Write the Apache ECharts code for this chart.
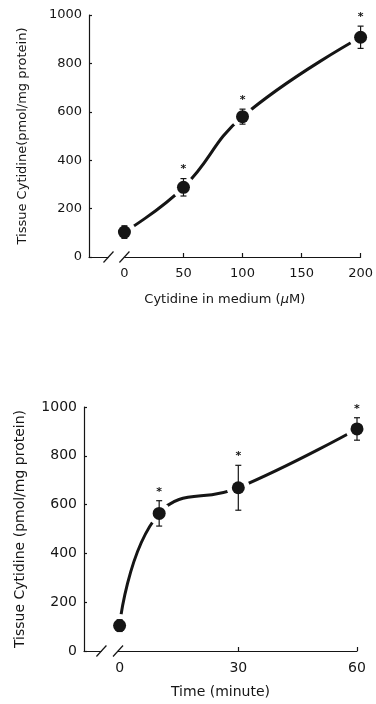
<!DOCTYPE html>
<html style="height: 100%">
<head>
    <meta charset="utf-8">
</head>
<body style="height: 100%; margin: 0; background: #fff">
    <div id="container" style="width: 376px; height: 704px"></div>
    <script type="text/javascript" src="https://cdn.jsdelivr.net/npm/echarts@6/dist/echarts.min.js"></script>
    <script type="text/javascript">
        // upper panel: cytidine in medium (uM)
        var doseX = [0, 50, 100, 200];
        var doseMean = [103, 288, 580, 908];
        var doseErr = [26, 36, 31, 46];
        var doseSig = [0, 1, 1, 1];
        var doseLabels = [0, 50, 100, 150, 200];
        var doseTicks = [50, 100, 150, 200];

        // lower panel: time (minute)
        var timeX = [0, 10, 30, 60];
        var timeMean = [104, 564, 669, 910];
        var timeErr = [24, 52, 92, 46];
        var timeSig = [0, 1, 1, 1];
        var timeLabels = [0, 30, 60];
        var timeTicks = [30, 60];

        var INK = '#151515';
        var FONT = 'DejaVu Sans';

        var dom = document.getElementById('container');
        var myChart = echarts.init(dom);

        function pts(xs, ys) {
            return xs.map(function (x, i) { return [x, ys[i]]; });
        }

        function errRender(params, api) {
            var x = api.value(0);
            var top = api.coord([x, api.value(2)]);
            var bot = api.coord([x, api.value(1)]);
            var st = { stroke: INK, lineWidth: 1.2 };
            return {
                type: 'group',
                children: [
                    { type: 'line', shape: { x1: top[0], y1: top[1], x2: bot[0], y2: bot[1] }, style: st },
                    { type: 'line', shape: { x1: top[0] - 3, y1: top[1], x2: top[0] + 3, y2: top[1] }, style: st },
                    { type: 'line', shape: { x1: bot[0] - 3, y1: bot[1], x2: bot[0] + 3, y2: bot[1] }, style: st }
                ]
            };
        }

        function starRender(params, api) {
            if (!api.value(2)) return null;
            var p = api.coord([api.value(0), api.value(1)]);
            return {
                type: 'text',
                style: {
                    text: '*', x: p[0], y: p[1] - 9, align: 'center', verticalAlign: 'middle',
                    fill: INK, font: 'bold 11px ' + FONT
                }
            };
        }

        // axis break "//" drawn between two x values
        function breakRender(a, b) {
            return function (params, api) {
                var p0 = api.coord([a, 0]);
                var p1 = api.coord([b, 0]);
                var st = { stroke: INK, lineWidth: 1.2 };
                return {
                    type: 'group',
                    children: [
                        { type: 'rect', shape: { x: p0[0], y: p0[1] - 3, width: p1[0] - p0[0], height: 6 }, style: { fill: '#fff' } },
                        { type: 'line', shape: { x1: p0[0] - 5, y1: p0[1] + 5.5, x2: p0[0] + 5, y2: p0[1] - 5.5 }, style: st },
                        { type: 'line', shape: { x1: p1[0] - 5, y1: p1[1] + 5.5, x2: p1[0] + 5, y2: p1[1] - 5.5 }, style: st }
                    ]
                };
            };
        }

        function panelSeries(k, xs, mean, err, sig, brk) {
            var data = pts(xs, mean);
            var bars = xs.map(function (x, i) { return [x, mean[i] - err[i], mean[i] + err[i]]; });
            var stars = xs.map(function (x, i) { return [x, mean[i] + err[i], sig[i]]; });
            return [
                {
                    type: 'line', xAxisIndex: k, yAxisIndex: k, data: data, smooth: 0.45,
                    symbol: 'none', lineStyle: { color: INK, width: 3 }, z: 2, silent: true
                },
                {
                    type: 'scatter', xAxisIndex: k, yAxisIndex: k, data: data, symbolSize: 23,
                    itemStyle: { color: '#fff', opacity: 1 }, z: 3, silent: true
                },
                {
                    type: 'custom', xAxisIndex: k, yAxisIndex: k, data: bars, renderItem: errRender,
                    z: 4, silent: true
                },
                {
                    type: 'scatter', xAxisIndex: k, yAxisIndex: k, data: data, symbolSize: 13,
                    itemStyle: { color: INK, opacity: 1 }, z: 5, silent: true
                },
                {
                    type: 'custom', xAxisIndex: k, yAxisIndex: k, data: stars, renderItem: starRender,
                    z: 6, silent: true
                },
                {
                    type: 'custom', xAxisIndex: k, yAxisIndex: k, data: [[0, 0]], renderItem: breakRender(brk[0], brk[1]),
                    z: 10, silent: true, clip: false
                }
            ];
        }

        function xAxis(k, min, max, labels, ticks, name, fs, gap) {
            return {
                type: 'value', gridIndex: k, min: min, max: max,
                name: name, nameLocation: 'middle', nameGap: gap,
                nameTextStyle: { color: INK, fontFamily: FONT, fontSize: fs, rich: { i: { fontStyle: 'italic', fontFamily: FONT, fontSize: fs, color: INK } } },
                splitLine: { show: false },
                axisLine: { show: true, onZero: false, lineStyle: { color: INK, width: 1.2 } },
                axisTick: { show: true, inside: true, length: 4, customValues: ticks, lineStyle: { color: INK, width: 1.2 } },
                axisLabel: { customValues: labels, color: INK, fontFamily: FONT, fontSize: fs, margin: 10 }
            };
        }

        function yAxis(k, name, fs, gap) {
            return {
                type: 'value', gridIndex: k, min: 0, max: 1000, interval: 200,
                name: name, nameLocation: 'middle', nameGap: gap,
                nameTextStyle: { color: INK, fontFamily: FONT, fontSize: fs },
                splitLine: { show: false },
                axisLine: { show: true, onZero: false, lineStyle: { color: INK, width: 1.2 } },
                axisTick: { show: true, inside: true, length: 3, lineStyle: { color: INK, width: 1.2 } },
                axisLabel: {
                    color: INK, fontFamily: FONT, fontSize: fs, margin: 7,
                    formatter: function (v) { return String(v); }
                }
            };
        }

        var option = {
            backgroundColor: '#fff',
            animation: false,
            grid: [
                { left: 89, right: 15, top: 15, height: 242 },
                { left: 84, right: 19, top: 407, height: 244 }
            ],
            xAxis: [
                xAxis(0, -30, 200, doseLabels, doseTicks, 'Cytidine in medium ({i|\u03BC}M)', 13, 36),
                xAxis(1, -9, 60, timeLabels, timeTicks, 'Time (minute)', 14, 34)
            ],
            yAxis: [
                yAxis(0, 'Tissue Cytidine(pmol/mg protein)', 13, 60),
                yAxis(1, 'Tissue Cytidine (pmol/mg protein)', 14, 57)
            ],
            series: panelSeries(0, doseX, doseMean, doseErr, doseSig, [-13.5, 0])
                .concat(panelSeries(1, timeX, timeMean, timeErr, timeSig, [-4.6, -0.4]))
        };

        myChart.setOption(option);
    </script>
</body>
</html>
